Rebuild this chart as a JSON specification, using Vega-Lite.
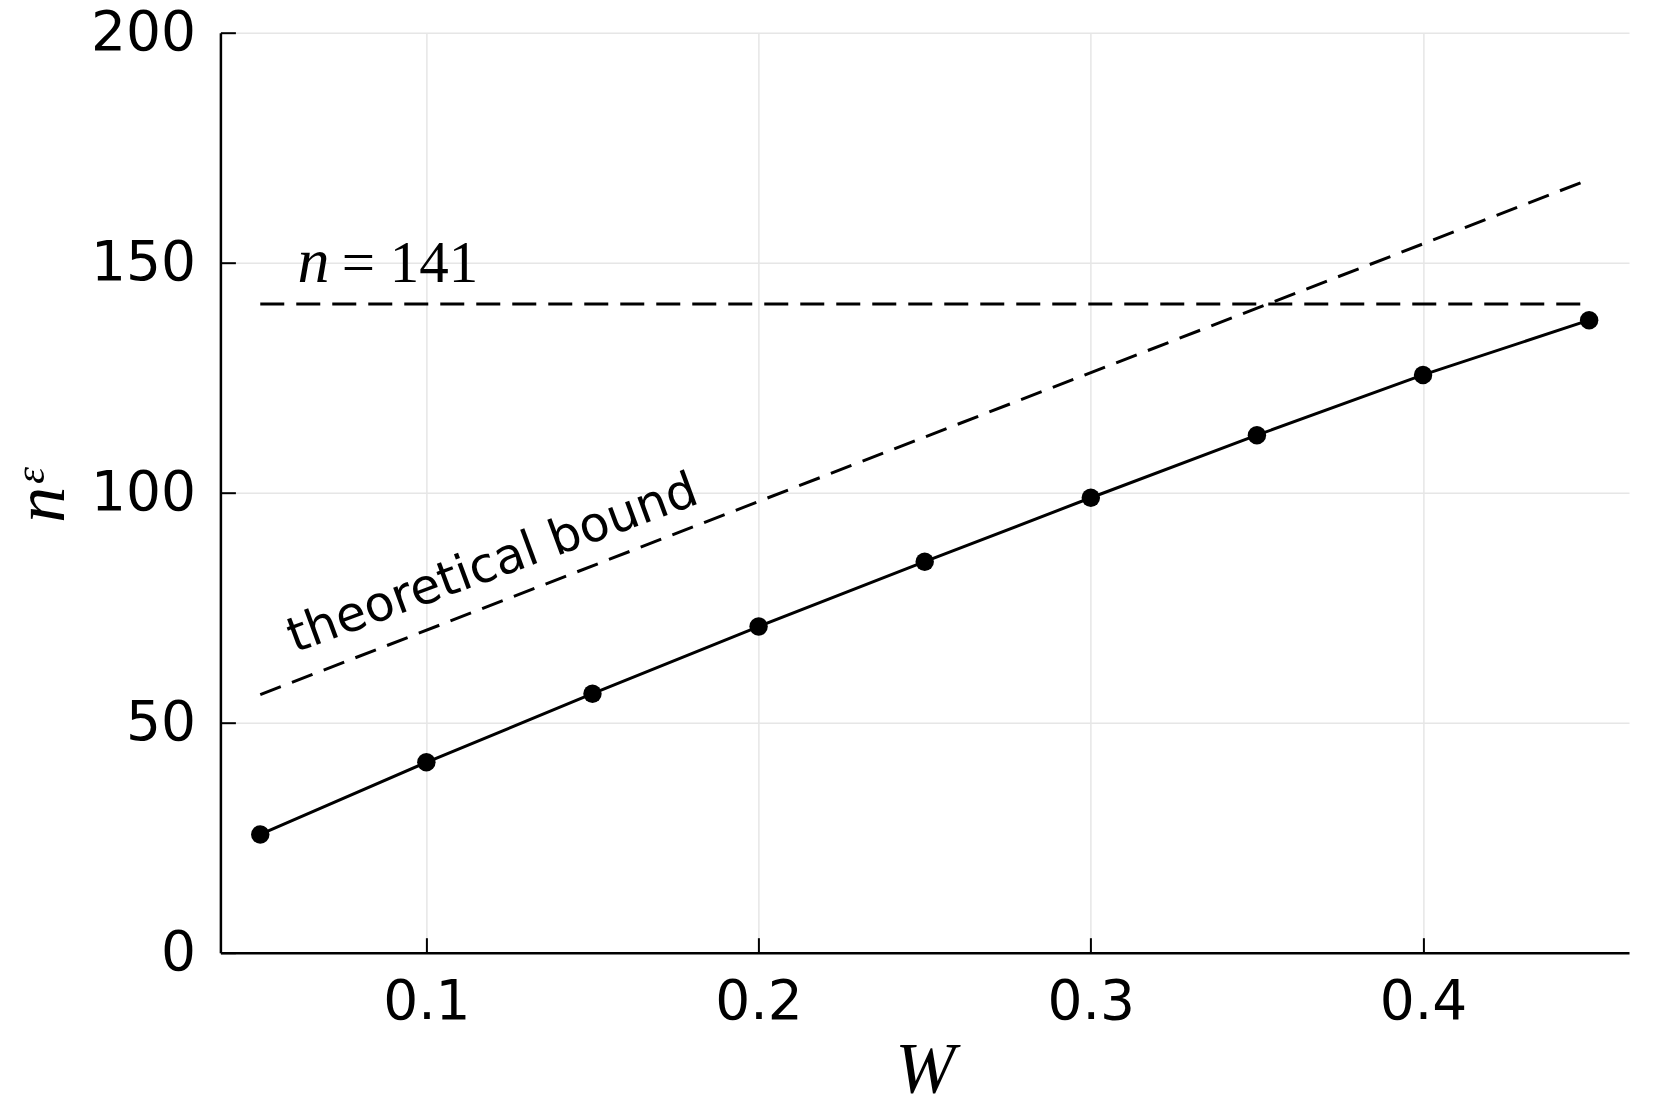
{
  "$schema": "https://vega.github.io/schema/vega-lite/v6.json",
  "width": 1408.6,
  "height": 920,
  "autosize": {"type": "none"},
  "padding": {"left": 220.4, "top": 32.7, "right": 32, "bottom": 154.3},
  "background": "white",
  "config": {
    "view": {"stroke": null},
    "axis": {
      "domainColor": "black",
      "domainWidth": 2.5,
      "tickColor": "black",
      "tickWidth": 2,
      "tickSize": -15,
      "gridColor": "#e6e6e6",
      "gridWidth": 1.5,
      "labelFont": "DejaVu Sans",
      "labelFontSize": 55,
      "labelColor": "black",
      "titleFont": "Liberation Serif",
      "titleFontStyle": "italic",
      "titleFontWeight": "normal",
      "titleFontSize": 72,
      "titleColor": "black"
    }
  },
  "datasets": {
    "points": [
      {"W": 0.05, "n": 25.7},
      {"W": 0.10, "n": 41.4},
      {"W": 0.15, "n": 56.3},
      {"W": 0.20, "n": 70.9},
      {"W": 0.25, "n": 85.0},
      {"W": 0.30, "n": 98.9},
      {"W": 0.35, "n": 112.5},
      {"W": 0.40, "n": 125.6},
      {"W": 0.45, "n": 137.5}
    ],
    "bound": [
      {"W": 0.05, "n": 56.1},
      {"W": 0.45, "n": 168.1}
    ],
    "limit": [
      {"W": 0.05, "n": 141},
      {"W": 0.45, "n": 141}
    ],
    "boundLabel": [{"W": 0.1215, "n": 81.5, "text": "theoretical bound"}],
    "nLabel": [{"W": 0.0612, "n": 145.7, "text": "n"}],
    "eqLabel": [{"W": 0.0745, "n": 145.7, "text": "= 141"}]
  },
  "layer": [
    {
      "data": {"name": "points"},
      "mark": {"type": "line", "color": "black", "strokeWidth": 3},
      "encoding": {
        "x": {
          "field": "W", "type": "quantitative",
          "scale": {"domain": [0.038, 0.462], "nice": false, "zero": false},
          "axis": {
            "values": [0.1, 0.2, 0.3, 0.4], "format": ".1f",
            "title": "W", "labelPadding": 38,
            "titleX": 704.3, "titleY": 138.3, "titleBaseline": "alphabetic", "titleAlign": "center"
          }
        },
        "y": {
          "field": "n", "type": "quantitative",
          "scale": {"domain": [0, 200], "nice": false},
          "axis": {
            "values": [0, 50, 100, 150, 200],
            "title": "nᵋ", "labelPadding": 40,
            "titleX": -179.4, "titleY": 463, "titleAngle": -90, "titleBaseline": "middle", "titleAlign": "center"
          }
        }
      }
    },
    {
      "data": {"name": "points"},
      "mark": {"type": "point", "shape": "circle", "filled": true, "color": "black", "opacity": 1, "size": 340},
      "encoding": {
        "x": {"field": "W", "type": "quantitative"},
        "y": {"field": "n", "type": "quantitative"}
      }
    },
    {
      "data": {"name": "bound"},
      "mark": {"type": "line", "color": "black", "strokeWidth": 3, "strokeDash": [22, 12]},
      "encoding": {
        "x": {"field": "W", "type": "quantitative"},
        "y": {"field": "n", "type": "quantitative"}
      }
    },
    {
      "data": {"name": "limit"},
      "mark": {"type": "line", "color": "black", "strokeWidth": 3, "strokeDash": [24, 12]},
      "encoding": {
        "x": {"field": "W", "type": "quantitative"},
        "y": {"field": "n", "type": "quantitative"}
      }
    },
    {
      "data": {"name": "boundLabel"},
      "mark": {"type": "text", "font": "DejaVu Sans", "fontSize": 49, "color": "black", "angle": -20.3, "align": "center", "baseline": "alphabetic"},
      "encoding": {
        "x": {"field": "W", "type": "quantitative"},
        "y": {"field": "n", "type": "quantitative"},
        "text": {"field": "text"}
      }
    },
    {
      "data": {"name": "nLabel"},
      "mark": {"type": "text", "font": "Liberation Serif", "fontStyle": "italic", "fontSize": 64, "color": "black", "align": "left", "baseline": "alphabetic"},
      "encoding": {
        "x": {"field": "W", "type": "quantitative"},
        "y": {"field": "n", "type": "quantitative"},
        "text": {"field": "text"}
      }
    },
    {
      "data": {"name": "eqLabel"},
      "mark": {"type": "text", "font": "Liberation Serif", "fontSize": 59, "color": "black", "align": "left", "baseline": "alphabetic"},
      "encoding": {
        "x": {"field": "W", "type": "quantitative"},
        "y": {"field": "n", "type": "quantitative"},
        "text": {"field": "text"}
      }
    }
  ]
}
